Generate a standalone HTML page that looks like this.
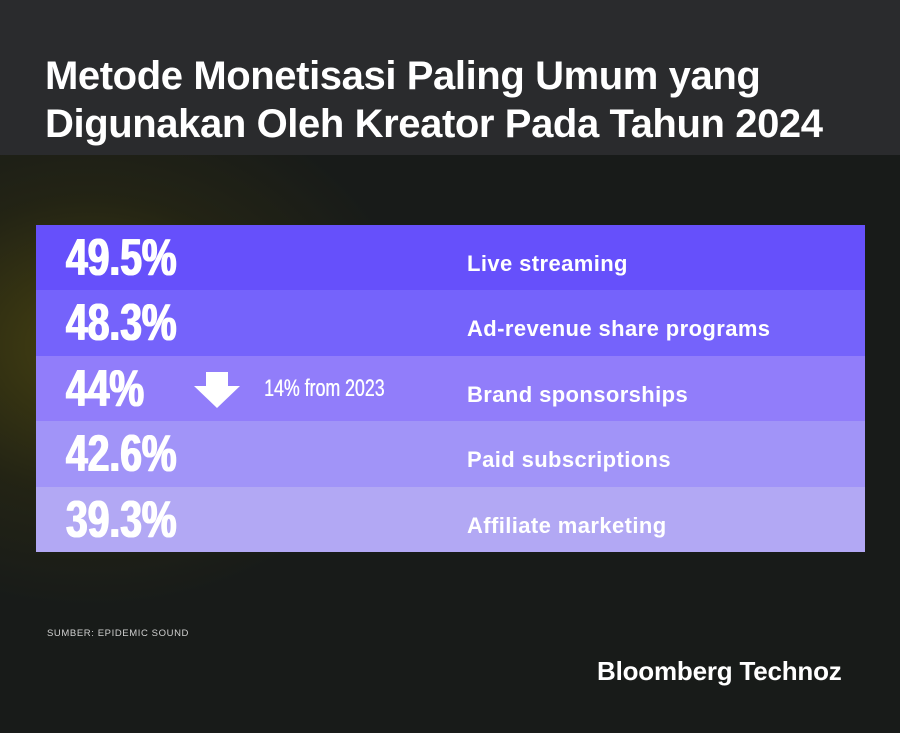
<!DOCTYPE html>
<html><head><meta charset="utf-8"><style>
html,body{margin:0;padding:0}
body{width:900px;height:733px;position:relative;overflow:hidden;background:#181b19;font-family:"Liberation Sans",sans-serif}
.glow{position:absolute;left:-180px;top:130px;width:600px;height:480px;background:radial-gradient(ellipse at 45% 45%,rgba(100,90,10,0.6),rgba(60,55,10,0.3) 40%,rgba(24,27,25,0) 70%)}
.head{position:absolute;left:0;top:0;width:900px;height:155px;background:#2a2b2d}
.title{position:absolute;left:45px;top:52px;color:#fff;font-weight:bold;font-size:40px;line-height:48px;letter-spacing:-0.4px;white-space:nowrap}
.box{position:absolute;left:36px;top:225px;width:829px}
.row{position:relative;height:65.4px}
.num{position:absolute;left:30px;top:5px;color:#fff;font-weight:bold;font-size:52px;line-height:56px;transform:scaleX(0.75);transform-origin:left center;font-family:"Liberation Sans Narrow","Liberation Sans",sans-serif;white-space:nowrap;text-shadow:1px 0 0 #fff,-1px 0 0 #fff}
.lab{position:absolute;left:467px;top:6px;line-height:65px;color:#fff;font-weight:bold;font-size:22px;letter-spacing:0.4px;white-space:nowrap}
.sub{position:absolute;left:228px;top:0;line-height:65px;color:#fff;font-size:24px;transform:scaleX(0.74);transform-origin:left center;white-space:nowrap;text-shadow:0.5px 0 0 #fff}
.src{position:absolute;left:47px;top:628px;color:#d0d0d0;font-size:9.5px;letter-spacing:0.6px}
.logo{position:absolute;left:597px;top:656px;color:#fff;font-weight:bold;font-size:26px;letter-spacing:-0.2px}
</style></head><body>
<div class="glow"></div>
<div class="head"></div>
<div class="title">Metode Monetisasi Paling Umum yang<br>Digunakan Oleh Kreator Pada Tahun 2024</div>
<div class="box">
<div class="row" style="background:#6650fb"><div class="num">49.5%</div><div class="lab" style="left:431px">Live streaming</div></div>
<div class="row" style="background:#7563fb"><div class="num">48.3%</div><div class="lab" style="left:431px">Ad-revenue share programs</div></div>
<div class="row" style="background:#917dfa"><div class="num">44%</div>
<svg style="position:absolute;left:158px;top:16px" width="46" height="36" viewBox="0 0 46 36"><polygon points="12,0 34,0 34,14 46,14 23,36 0,14 12,14" fill="#fff"/></svg>
<div class="sub">14% from 2023</div><div class="lab" style="left:431px">Brand sponsorships</div></div>
<div class="row" style="background:#a194f8"><div class="num">42.6%</div><div class="lab" style="left:431px">Paid subscriptions</div></div>
<div class="row" style="background:#b2a8f4"><div class="num">39.3%</div><div class="lab" style="left:431px">Affiliate marketing</div></div>
</div>
<div class="src">SUMBER: EPIDEMIC SOUND</div>
<div class="logo">Bloomberg Technoz</div>
</body></html>
